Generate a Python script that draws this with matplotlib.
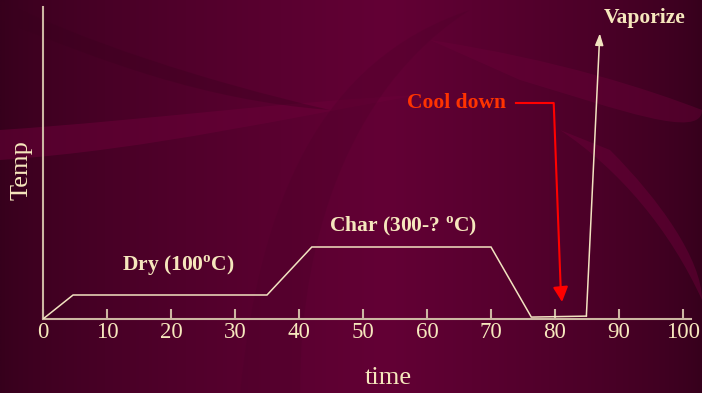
import numpy as np
import matplotlib
matplotlib.use("Agg")
import matplotlib.pyplot as plt
from matplotlib.path import Path
from matplotlib.patches import PathPatch

plt.rcParams["font.family"] = ["Liberation Serif", "DejaVu Serif"]
plt.rcParams["mathtext.fontset"] = "custom"
plt.rcParams["mathtext.rm"] = "Liberation Serif"
plt.rcParams["mathtext.bf"] = "Liberation Serif:bold"

# Heating profile (time vs. temperature, arbitrary units)
time = [0, 4.7, 35, 42, 70, 76.3, 84.9]
temp = [0, 100, 100, 300, 300, 8, 12]
vapor_time = 87.0
vapor_temp = 1190

xticks = [0, 10, 20, 30, 40, 50, 60, 70, 80, 90, 100]

CREAM = "#f6e7bd"
AXIS = "#cdb7a2"
LINE = "#f2e3c0"
RED = "#ff0000"
RED_TEXT = "#ff3300"

W, H = 702, 393
fig = plt.figure(figsize=(W / 100, H / 100), dpi=100)

# ---- background: maroon gradient with soft swooshes ----
bg = fig.add_axes([0, 0, 1, 1])
bg.set_xlim(0, W)
bg.set_ylim(H, 0)
bg.axis("off")
xx = np.linspace(0, 1, 400)
prof = np.clip(np.minimum(xx / 0.55, (1 - xx) / 0.45), 0, 1) ** 0.7
c_dark = np.array([0x36, 0x00, 0x1c]) / 255
c_mid = np.array([0x63, 0x00, 0x35]) / 255
grad = c_dark[None, :] + (c_mid - c_dark)[None, :] * prof[:, None]
img = np.repeat(grad[None, :, :], 2, axis=0)
bg.imshow(img, extent=[0, W, H, 0], aspect="auto", zorder=0)


def swoosh(verts, color, alpha):
    codes = [Path.MOVETO] + [Path.CURVE4] * (len(verts) - 2) + [Path.CLOSEPOLY]
    bg.add_patch(PathPatch(Path(verts, codes), facecolor=color, edgecolor="none",
                           alpha=alpha, zorder=1))


# lighter band across the left
swoosh([(0, 130), (150, 120), (300, 100), (420, 95),
        (300, 115), (150, 150), (0, 160), (0, 130)], "#6a0038", 0.55)
# big curved sweep in the middle
swoosh([(240, 393), (260, 200), (320, 60), (470, 10),
        (360, 80), (300, 220), (300, 393), (240, 393)], "#4a0028", 0.25)
# upper right band
swoosh([(430, 40), (560, 60), (650, 90), (702, 110),
        (702, 140), (620, 110), (520, 80), (430, 40)], "#6a0038", 0.45)
# right diagonal band
swoosh([(560, 130), (620, 170), (670, 230), (702, 300),
        (702, 260), (660, 200), (610, 150), (560, 130)], "#6a0038", 0.5)
swoosh([(0, 20), (100, 60), (200, 100), (330, 110),
        (200, 80), (80, 40), (0, 0), (0, 20)], "#3a001e", 0.35)

# ---- main chart ----
x0, y0 = 43, 319
px_per_x = 6.4
ax_w_px = 648
ax_h_px = 312
ax = fig.add_axes([x0 / W, (H - y0) / H, ax_w_px / W, ax_h_px / H])
ax.patch.set_alpha(0)
ax.set_xlim(0, ax_w_px / px_per_x)
ax.set_ylim(0, 1300)

for s in ("top", "right"):
    ax.spines[s].set_visible(False)
for s in ("left", "bottom"):
    ax.spines[s].set_color(AXIS)
    ax.spines[s].set_linewidth(1.5)

ax.set_xticks(xticks)
ax.set_xticklabels([str(t) for t in xticks])
ax.tick_params(axis="x", direction="in", length=7, width=1.5, color=AXIS,
               labelcolor=CREAM, labelsize=16.5, pad=2)
ax.set_yticks([])

ax.plot(time, temp, color=LINE, lw=1.1, solid_joinstyle="miter", zorder=3)
ax.annotate("", xy=(vapor_time, vapor_temp), xytext=(time[-1], temp[-1]),
            arrowprops=dict(arrowstyle="-|>,head_length=0.7,head_width=0.25",
                            color=LINE, lw=1.1, shrinkA=0, shrinkB=0), zorder=3)

# stage labels
ax.text(21.2, 222, r"Dry (100$^{\mathbf{o}}$C)", color=CREAM, fontsize=15.5,
        fontweight="bold", ha="center", va="center")
ax.text(56.3, 385, r"Char (300-? $^{\mathbf{o}}$C)", color=CREAM, fontsize=15.5,
        fontweight="bold", ha="center", va="center")
ax.text(94, 1255, "Vaporize", color=CREAM, fontsize=15.5, fontweight="bold",
        ha="center", va="center", clip_on=False)

# cool-down callout
ax.text(64.6, 902, "Cool down", color=RED_TEXT, fontsize=15.5, fontweight="bold",
        ha="center", va="center")
ax.plot([73.9, 79.8, 80.9], [900, 900, 120], color=RED, lw=1.5, zorder=4)
ax.annotate("", xy=(81.1, 71), xytext=(80.9, 125),
            arrowprops=dict(arrowstyle="-|>,head_length=0.9,head_width=0.45",
                            color=RED, lw=1.5, shrinkA=0, shrinkB=0), zorder=4)

# axis titles
fig.text(388 / W, 1 - 378 / H, "time", color=CREAM, fontsize=19,
         ha="center", va="center")
fig.text(22 / W, 1 - 170 / H, "Temp", color=CREAM, fontsize=19,
         ha="center", va="center", rotation=90)

fig.savefig("out.png", dpi=100)
